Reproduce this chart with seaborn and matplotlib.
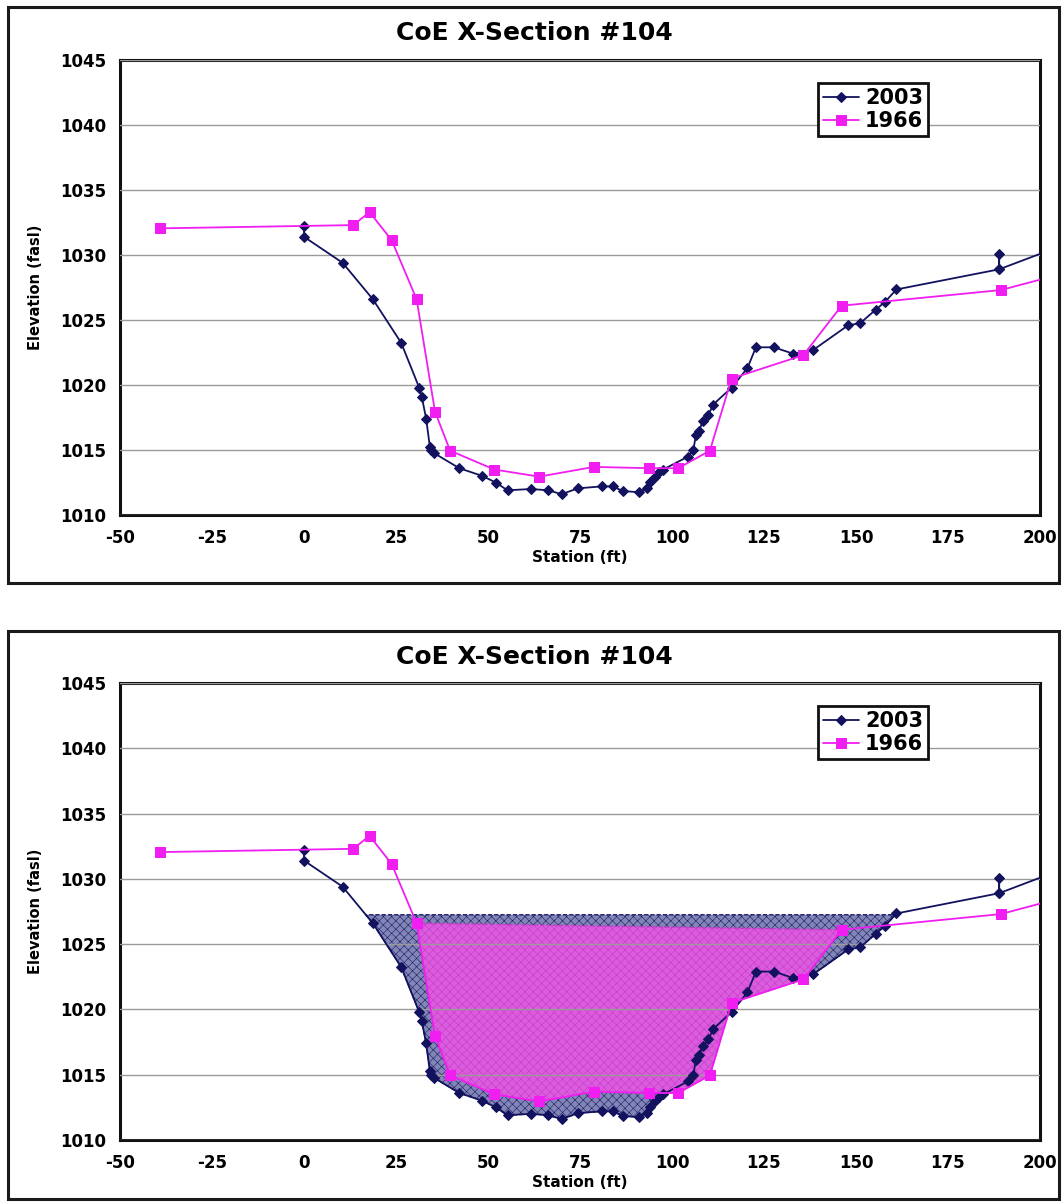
import matplotlib

matplotlib.use("Agg")
import matplotlib.pyplot as plt
import numpy as np
import seaborn as sns
from matplotlib.patches import Rectangle

# 2003 survey (station ft, elevation fasl)
station_2003 = [0, 0, 10.5, 18.7, 26.4, 31.3, 32.0, 33.2, 34.2, 34.5, 35.4,
                42.2, 48.5, 52.1, 55.3, 61.7, 66.4, 70.0, 74.4, 80.9, 83.9,
                86.6, 90.9, 93.1, 94.0, 95.4, 96.6, 97.6, 104.4, 105.8, 106.5,
                107.4, 108.3, 109.9, 111.2, 116.2, 120.5, 122.8, 127.7, 133.0,
                138.4, 147.9, 151.1, 155.4, 157.9, 161.0, 188.9, 188.9, 188.9,
                202.0]
elev_2003 = [1032.2, 1031.4, 1029.4, 1026.6, 1023.25, 1019.8, 1019.1, 1017.4,
             1015.25, 1015.0, 1014.75, 1013.6, 1013.0, 1012.5, 1011.9, 1012.0,
             1011.9, 1011.6, 1012.05, 1012.2, 1012.2, 1011.85, 1011.75,
             1012.05, 1012.55, 1012.95, 1013.3, 1013.5, 1014.5, 1015.0,
             1016.15, 1016.5, 1017.2, 1017.7, 1018.5, 1019.8, 1021.3, 1022.9,
             1022.9, 1022.4, 1022.7, 1024.6, 1024.75, 1025.8, 1026.4, 1027.35,
             1028.9, 1030.1, 1028.9, 1030.3]

# 1966 survey
station_1966 = [-39.0, 13.4, 17.8, 23.8, 30.6, 35.6, 39.7, 51.7, 63.9, 78.8,
                93.8, 101.7, 110.3, 116.2, 135.7, 146.1, 189.3, 202.0]
elev_1966 = [1032.05, 1032.3, 1033.3, 1031.15, 1026.6, 1017.95, 1014.95,
             1013.5, 1012.95, 1013.7, 1013.6, 1013.6, 1014.95, 1020.5, 1022.3,
             1026.1, 1027.3, 1028.25]

water_level = 1027.25
fill_1966_range = (30, 147)

x_ticks = [-50, -25, 0, 25, 50, 75, 100, 125, 150, 175, 200]
y_ticks = [1010, 1015, 1020, 1025, 1030, 1035, 1040, 1045]

title = "CoE X-Section #104"
color_2003 = "#12125e"
color_1966 = "#f01ef0"

sns.set_style("white")
plt.rcParams["font.family"] = ["DejaVu Sans"]
plt.rcParams["font.weight"] = "bold"
plt.rcParams["hatch.linewidth"] = 0.4
plt.rcParams["axes.unicode_minus"] = False
plt.rcParams["text.color"] = "black"
plt.rcParams["axes.labelcolor"] = "black"
plt.rcParams["xtick.labelcolor"] = "black"
plt.rcParams["ytick.labelcolor"] = "black"

W, H = 1064, 1204


def under_level(xs, ys, level):
    # keep the part of the profile that sits below the water line
    px, py = [], []
    for i in range(len(xs) - 1):
        x0, y0, x1, y1 = xs[i], ys[i], xs[i + 1], ys[i + 1]
        if y0 <= level:
            px.append(x0)
            py.append(y0)
        if (y0 - level) * (y1 - level) < 0:
            t = (level - y0) / (y1 - y0)
            px.append(x0 + t * (x1 - x0))
            py.append(level)
    return px, py


def draw_panel(fig, top_px, bottom_px, frame_top, frame_bottom, shaded):
    fig.patches.append(Rectangle((8 / W, 1 - frame_bottom / H), 1051 / W,
                                 (frame_bottom - frame_top) / H,
                                 transform=fig.transFigure, fill=False,
                                 edgecolor="#1a1a1a", linewidth=2.2))
    ax = fig.add_axes([120 / W, 1 - bottom_px / H, 920 / W,
                       (bottom_px - top_px) / H])

    if shaded:
        fx, fy = under_level(station_2003, elev_2003, water_level)
        ax.fill(fx, fy, facecolor="#8286b6", edgecolor="#1c1c66",
                hatch="xxxx", linewidth=1.0, linestyle=(0, (3, 1.5)),
                zorder=1)
        s66 = np.array(station_1966)
        e66 = np.array(elev_1966)
        m = (s66 >= fill_1966_range[0]) & (s66 <= fill_1966_range[1])
        ax.fill(s66[m], e66[m], facecolor="#dc5cde", edgecolor="#c43cc8",
                hatch="xxxx", linewidth=1.0, linestyle=(0, (3, 1.5)),
                zorder=1.2)

    sns.lineplot(x=station_2003, y=elev_2003, estimator=None, sort=False,
                 color=color_2003, marker="D", markersize=5,
                 markeredgecolor=color_2003, linewidth=1.3, label="2003",
                 ax=ax, zorder=3)
    sns.lineplot(x=station_1966, y=elev_1966, estimator=None, sort=False,
                 color=color_1966, marker="s", markersize=7,
                 markeredgecolor=color_1966, linewidth=1.3, label="1966",
                 ax=ax, zorder=3)

    ax.set_xlim(-50, 200)
    ax.set_ylim(1010, 1045)
    ax.set_xticks(x_ticks)
    ax.set_yticks(y_ticks)
    ax.set_axisbelow(False)
    ax.grid(axis="y", color="#9a9a9a", linewidth=1.0)
    ax.grid(axis="x", visible=False)
    for sp in ax.spines.values():
        sp.set_visible(True)
        sp.set_color("#111111")
        sp.set_linewidth(2.2)
    ax.tick_params(axis="both", direction="out", length=4, width=1,
                   color="#999999", labelsize=12, pad=6)
    for lab in ax.get_xticklabels() + ax.get_yticklabels():
        lab.set_fontweight("bold")
    ax.set_xlabel("Station (ft)", fontsize=11, fontweight="bold", labelpad=2)
    ax.set_ylabel("Elevation (fasl)", fontsize=10.5, fontweight="bold",
                  labelpad=12)

    leg = ax.legend(loc="upper left", bbox_to_anchor=(0.759, 0.95),
                    frameon=True, fancybox=False, edgecolor="#111111",
                    framealpha=1, prop={"weight": "bold", "size": 15},
                    handlelength=1.7, handletextpad=0.3, borderpad=0.25,
                    labelspacing=0.15, borderaxespad=0)
    leg.get_frame().set_linewidth(2)

    fig.text(534 / W, 1 - (frame_top + 26) / H, title, ha="center",
             va="center", fontsize=18, fontweight="bold")
    return ax


fig = plt.figure(figsize=(W / 100, H / 100), dpi=100)
draw_panel(fig, 60, 515, 7, 583, shaded=False)
draw_panel(fig, 683, 1140, 631, 1199, shaded=True)

fig.savefig("out.png", dpi=100)
